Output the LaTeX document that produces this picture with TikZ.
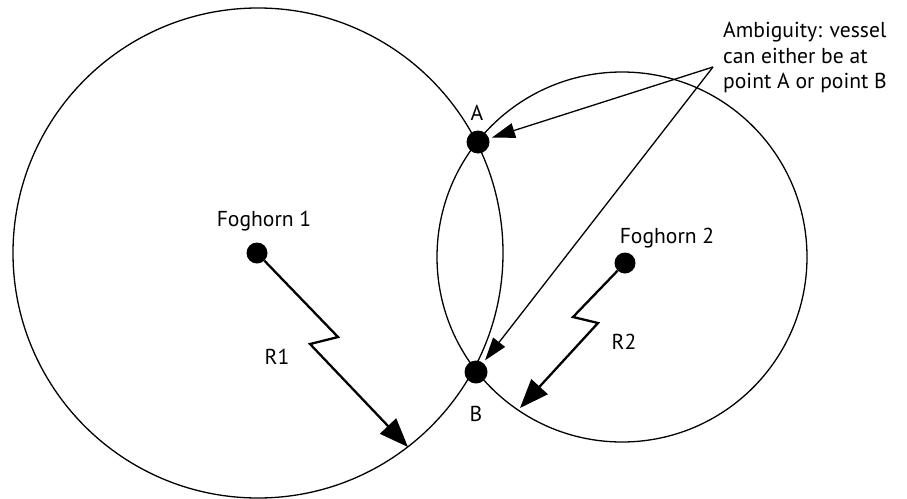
\documentclass[tikz,border=0pt]{standalone}
\usepackage{fontspec}
\setmainfont{PT Sans}
\usetikzlibrary{arrows.meta}
\begin{document}
\begin{tikzpicture}[x=1pt,y=-1pt,
  ring/.style={draw, line width=1.3pt},
  spot/.style={circle, fill, inner sep=0pt, minimum size=21pt},
  radius arrow/.style={line width=2.3pt, -{Triangle[length=29pt,width=22pt]}},
  pointer/.style={line width=1.3pt, shorten >=3pt, -{Triangle[length=23pt,width=15pt]}},
  lbl/.style={font=\fontsize{21.6}{25.5}\selectfont, inner sep=0pt},
]
\useasboundingbox (0,0) rectangle (907,498);

% range circles of the two foghorns
\draw[ring] (258,253) circle[radius=245pt];
\draw[ring] (622,257) circle[radius=185pt];

% foghorns and the two candidate positions
\node[spot] (f1) at (257,253) {};
\node[spot] (f2) at (625,263) {};
\node[spot, minimum size=23pt] (a) at (478,142) {};
\node[spot, minimum size=23pt] (b) at (476,372) {};

\coordinate (r1end) at (408,447);
\coordinate (r2end) at (520,408);
\coordinate (apex) at (713,67);

% radii with a break mark
\draw[radius arrow] (f1) -- (338,337) -- (310,344) -- (r1end);
\draw[radius arrow] (f2) -- (573,317) -- (598,323) -- (r2end);

% callout pointers
\draw[pointer] (apex) -- (a);
\draw[pointer] (apex) -- (b);

% labels
\node[lbl] (l1) at (264,221) {Foghorn 1};
\node[lbl] (l2) at (667,238) {Foghorn 2};
\node[lbl] (lr1) at (277,357) {R1};
\node[lbl] (lr2) at (624,342) {R2};
\node[lbl] (la) at (477,113) {A};
\node[lbl] (lb) at (476,414) {B};
\node[lbl, anchor=north west, align=left] (note) at (723,22)
  {Ambiguity: vessel\\can either be at\\point A or point B};
\end{tikzpicture}
\end{document}
